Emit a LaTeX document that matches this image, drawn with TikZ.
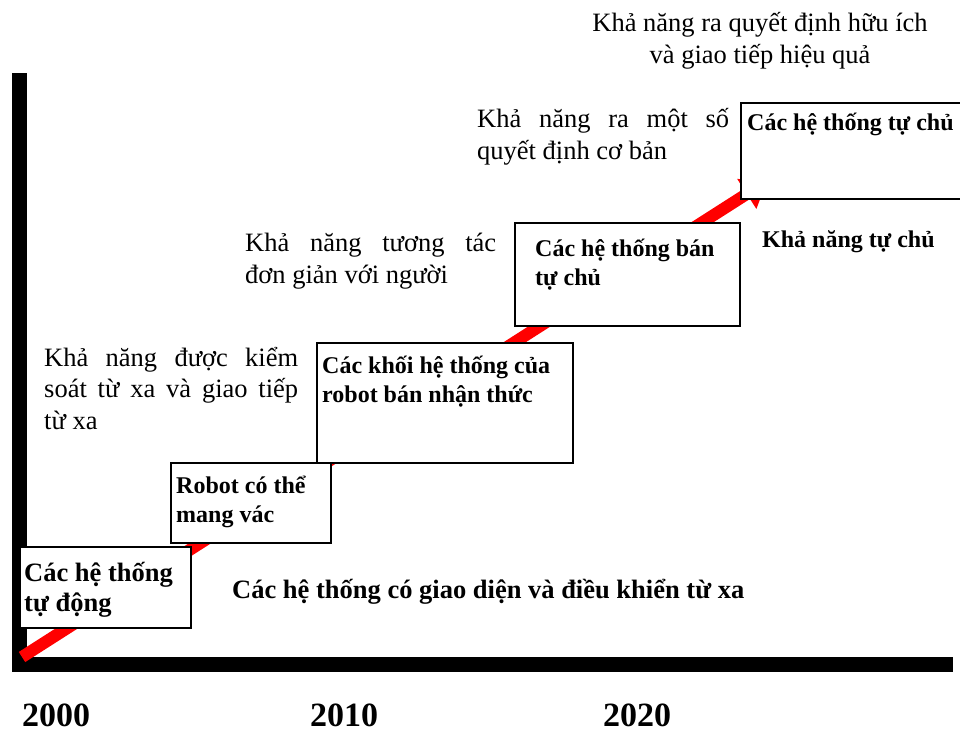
\documentclass[tikz,border=0pt]{standalone}
\usepackage{fontspec}
\setmainfont{Liberation Serif}
\usetikzlibrary{arrows.meta}

\begin{document}
\begin{tikzpicture}[x=1pt, y=-1pt,
  axis/.style={line width=15pt, black, line join=miter},
  trend/.style={line width=12pt, red, -{Triangle[length=24pt, width=34pt]}},
  stagebox/.style={draw=black, line width=1.8pt, fill=white, rectangle, inner sep=0pt},
  boxtext/.style={font=\bfseries\fontsize{24}{28.5}\selectfont, anchor=base west, inner sep=0pt, align=left},
  bigbold/.style={font=\bfseries\fontsize{26.5}{30}\selectfont, anchor=base west, inner sep=0pt, align=left},
  note/.style={font=\fontsize{26.5}{31.5}\selectfont, anchor=base west, inner sep=0pt, align=left},
  year/.style={font=\bfseries\fontsize{34}{40}\selectfont, anchor=base west, inner sep=0pt}]
\useasboundingbox (0,0) rectangle (960,731);

% axes
\coordinate (ytop) at (19,73);
\coordinate (corner) at (19,664);
\coordinate (xend) at (953,664);
\draw[axis] (ytop) -- (corner) -- (xend);

% rising trend (multi-line labels below are anchored at their last baseline)
\coordinate (start) at (22,657);
\coordinate (tip) at (767,181);
\draw[trend] (start) -- (tip);

% stage boxes
\node[stagebox, anchor=north west, minimum width=171pt, minimum height=81pt] (b1) at (19,546) {};
\node[stagebox, anchor=north west, minimum width=160pt, minimum height=80pt] (b2) at (170,462) {};
\node[stagebox, anchor=north west, minimum width=256pt, minimum height=120pt] (b3) at (316,342) {};
\node[stagebox, anchor=north west, minimum width=225pt, minimum height=103pt] (b4) at (514,222) {};
\node[stagebox, anchor=north west, minimum width=230pt, minimum height=96pt] (b5) at (740,102) {};

% box texts
\node[bigbold] (t1) at (24,611) {Các hệ thống\\tự động};
\node[boxtext] (t2) at (176,522) {Robot có thể\\mang vác};
\node[boxtext] (t3) at (322,402) {Các khối hệ thống của\\robot bán nhận thức};
\node[boxtext] (t4) at (535,285) {Các hệ thống bán\\tự chủ};
\node[boxtext] (t5) at (747,130) {Các hệ thống tự chủ};

% capability notes
\node[note] (n1) at (44,429) {\makebox[254pt][s]{Khả năng được kiểm}\\\makebox[254pt][s]{soát từ xa và giao tiếp}\\từ xa};
\node[note] (n2) at (245,283) {\makebox[251pt][s]{Khả năng tương tác}\\đơn giản với người};
\node[note] (n3) at (477,159) {\makebox[252pt][s]{Khả năng ra một số}\\quyết định cơ bản};
\node[note, anchor=base, align=center] (n4) at (760,63) {Khả năng ra quyết định hữu ích\\và giao tiếp hiệu quả};
\node[boxtext] (n5) at (762,247) {Khả năng tự chủ};
\node[bigbold] (n6) at (232,598) {Các hệ thống có giao diện và điều khiển từ xa};

% years
\node[year] (y1) at (22,726) {2000};
\node[year] (y2) at (310,726) {2010};
\node[year] (y3) at (603,726) {2020};
\end{tikzpicture}
\end{document}
